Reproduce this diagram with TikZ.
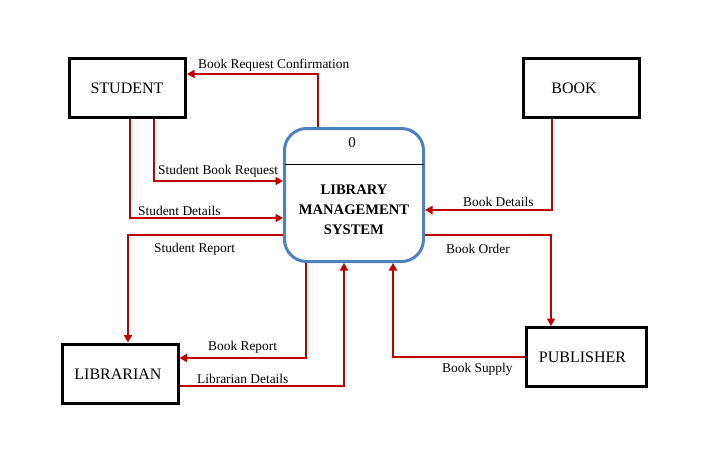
\documentclass[tikz,border=0pt]{standalone}
\usepackage{fontspec}
\setmainfont{Liberation Serif}
\usetikzlibrary{arrows.meta}
\definecolor{flowred}{HTML}{C00000}
\definecolor{procblue}{HTML}{4F81BD}
\tikzset{
  entity/.style={draw=black, line width=3pt, fill=white, minimum width=116pt, minimum height=59pt, inner sep=0pt, font=\fontsize{16}{18}\selectfont},
  process/.style={draw=procblue, line width=3pt, fill=white, rounded corners=22pt, minimum width=139pt, minimum height=133pt, inner sep=0pt},
  flow/.style={draw=flowred, line width=2.6pt, -{Triangle[length=7.5pt,width=8pt]}},
  lbl/.style={anchor=west, inner sep=0pt, font=\fontsize{13.4}{15}\selectfont}
}
\begin{document}
\begin{tikzpicture}[x=1pt,y=-1pt]
\useasboundingbox[fill=white] (0,0) rectangle (721,474);
% nodes
\node[entity] (student) at (127.5,88) {};
\node[font=\fontsize{16}{18}\selectfont] (studentt) at (127,88) {STUDENT};
\node[entity] (book) at (581.5,88) {};
\node[font=\fontsize{16}{18}\selectfont] (bookt) at (574,88) {BOOK};
\node[entity] (librarian) at (120,373.5) {};
\node[font=\fontsize{16}{18}\selectfont] (librariant) at (118,374) {LIBRARIAN};
\node[entity, minimum width=120pt] (publisher) at (586.5,357) {};
\node[font=\fontsize{16}{18}\selectfont] (publishert) at (582.5,357) {PUBLISHER};
\node[process] (proc) at (354,195) {};
\node[font=\fontsize{15}{17}\selectfont] (procnum) at (352,143) {0};
\node[font=\fontsize{14.6}{20}\bfseries, align=center] (proct) at (354,210) {LIBRARY\\MANAGEMENT\\SYSTEM};
\draw[line width=0.8pt] ([xshift=1.5pt,yshift=31pt]proc.west) -- ([xshift=-1.5pt,yshift=31pt]proc.east);
% flows
\draw[flow] ([xshift=-36pt]proc.north) |- ([yshift=14pt]student.east);
\draw[flow] ([xshift=26.5pt]student.south) |- ([yshift=14pt]proc.west);
\draw[flow] ([xshift=2.5pt]student.south) |- ([yshift=-23pt]proc.west);
\draw[flow] ([yshift=-40pt]proc.west) -| ([xshift=8pt]librarian.north);
\draw[flow] ([xshift=-48pt]proc.south) |- ([yshift=15.5pt]librarian.east);
\draw[flow] ([yshift=-12.5pt]librarian.east) -| ([xshift=-10pt]proc.south);
\draw[flow] ([xshift=-29.5pt]book.south) |- ([yshift=-15pt]proc.east);
\draw[flow] ([yshift=-40pt]proc.east) -| ([xshift=-35.5pt]publisher.north);
\draw[flow] (publisher.west) -| ([xshift=39pt]proc.south);
% labels
\node[lbl] (l1) at (198,65) {Book Request Confirmation};
\node[lbl] (l2) at (158,171) {Student Book Request};
\node[lbl] (l3) at (138,211) {Student Details};
\node[lbl] (l4) at (154,249) {Student Report};
\node[lbl] (l5) at (208,347) {Book Report};
\node[lbl] (l6) at (197,379) {Librarian Details};
\node[lbl] (l7) at (463,202) {Book Details};
\node[lbl] (l8) at (446,249) {Book Order};
\node[lbl] (l9) at (442,369) {Book Supply};
\end{tikzpicture}
\end{document}
